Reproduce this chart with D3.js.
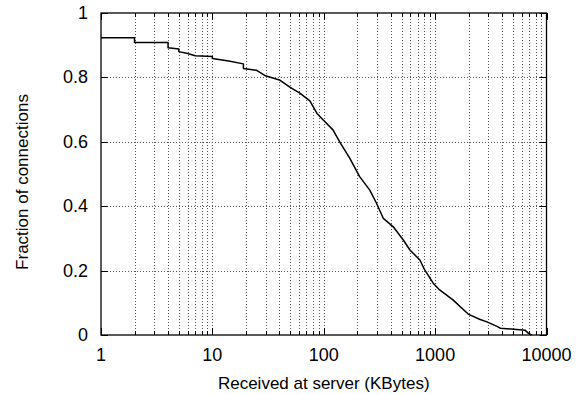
<!DOCTYPE html>
<html>
<head>
<meta charset="utf-8">
<script src="https://cdn.jsdelivr.net/npm/d3@7/dist/d3.min.js"></script>
<style>
  body { margin: 0; background: #fff; }
  svg text { font-family: "Liberation Sans", Arial, Helvetica, sans-serif; fill: #000; }
</style>
</head>
<body>
<svg id="chart" width="587" height="394"></svg>
<script>
// Fraction of connections that received more than X KBytes at the server.
var sizesKB = [1, 2, 2, 4, 4, 5, 5, 6, 7, 10, 10, 14, 19, 19, 25, 30, 40, 50, 61, 75,
               87, 99, 121, 139, 171, 210, 259, 297, 343, 421, 518, 594, 730, 806,
               961, 1098, 1445, 1980, 2505, 2955, 3630, 3860, 5750, 6400, 6900, 7350];
var fractions = [0.923, 0.923, 0.908, 0.908, 0.892, 0.888, 0.880, 0.874, 0.867, 0.865,
                 0.859, 0.851, 0.842, 0.828, 0.822, 0.805, 0.792, 0.769, 0.751, 0.727,
                 0.688, 0.668, 0.637, 0.600, 0.549, 0.492, 0.450, 0.410, 0.362, 0.336,
                 0.295, 0.264, 0.233, 0.202, 0.161, 0.140, 0.109, 0.065, 0.049, 0.040,
                 0.026, 0.021, 0.016, 0.015, 0.005, 0.0];
var xTicks = [1, 10, 100, 1000, 10000];
var yTicks = [0, 0.2, 0.4, 0.6, 0.8, 1];
var xLabel = "Received at server (KBytes)";
var yLabel = "Fraction of connections";

var plotLeft = 101, plotRight = 546.5, plotTop = 13, plotBottom = 335;
var svg = d3.select("#chart");

var x = d3.scaleLog().domain([1, 10000]).range([plotLeft, plotRight]);
var y = d3.scaleLinear().domain([0, 1]).range([plotBottom, plotTop]);

// Minor ticks: 2..9 in every decade.
var minorTicks = [];
for (let d = 1; d < 10000; d *= 10) {
    for (let m = 2; m <= 9; m++) minorTicks.push(d * m);
}

// Grid lines (dotted).
var grid = svg.append("g").attr("stroke", "#555").attr("stroke-width", 1)
    .attr("stroke-dasharray", "1,2");
grid.selectAll(".vgrid").data(minorTicks.concat([10, 100, 1000])).enter()
    .append("line")
    .attr("x1", d => Math.round(x(d)) + 0.5).attr("x2", d => Math.round(x(d)) + 0.5)
    .attr("y1", plotTop).attr("y2", plotBottom);
grid.selectAll(".hgrid").data([0.2, 0.4, 0.6, 0.8]).enter()
    .append("line")
    .attr("x1", plotLeft).attr("x2", plotRight)
    .attr("y1", d => Math.round(y(d)) + 0.5).attr("y2", d => Math.round(y(d)) + 0.5);

// Tick marks on all four sides, pointing inwards.
var ticks = svg.append("g").attr("stroke", "#000").attr("stroke-width", 1);
xTicks.concat(minorTicks).forEach(function (d) {
    let len = xTicks.includes(d) ? 7 : 4;
    let px = Math.round(x(d)) + 0.5;
    ticks.append("line").attr("x1", px).attr("x2", px).attr("y1", plotBottom).attr("y2", plotBottom - len);
    ticks.append("line").attr("x1", px).attr("x2", px).attr("y1", plotTop).attr("y2", plotTop + len);
});
yTicks.forEach(function (d) {
    let py = Math.round(y(d)) + 0.5;
    ticks.append("line").attr("x1", plotLeft).attr("x2", plotLeft + 7).attr("y1", py).attr("y2", py);
    ticks.append("line").attr("x1", plotRight).attr("x2", plotRight - 7).attr("y1", py).attr("y2", py);
});

// Curve.
var points = sizesKB.map((s, i) => [s, fractions[i]]);
svg.append("path")
    .datum(points)
    .attr("fill", "none")
    .attr("stroke", "#000")
    .attr("stroke-width", 1.5)
    .attr("stroke-linejoin", "round")
    .attr("d", d3.line().x(d => x(d[0])).y(d => y(d[1])));

// Frame.
svg.append("rect")
    .attr("x", plotLeft).attr("y", plotTop)
    .attr("width", plotRight - plotLeft).attr("height", plotBottom - plotTop)
    .attr("fill", "none").attr("stroke", "#000").attr("stroke-width", 1.3);

// Tick labels.
svg.selectAll(".xlab").data(xTicks).enter().append("text")
    .attr("x", d => x(d)).attr("y", plotBottom + 26)
    .attr("text-anchor", "middle").attr("font-size", 18)
    .text(d => d);
svg.selectAll(".ylab").data(yTicks).enter().append("text")
    .attr("x", plotLeft - 13).attr("y", d => y(d) + 6)
    .attr("text-anchor", "end").attr("font-size", 18)
    .text(d => d);

// Axis titles.
svg.append("text")
    .attr("x", (plotLeft + plotRight) / 2).attr("y", 389)
    .attr("text-anchor", "middle").attr("font-size", 17)
    .text(xLabel);
svg.append("text")
    .attr("transform", "translate(28,182) rotate(-90)")
    .attr("text-anchor", "middle").attr("font-size", 17)
    .text(yLabel);
</script>
</body>
</html>
